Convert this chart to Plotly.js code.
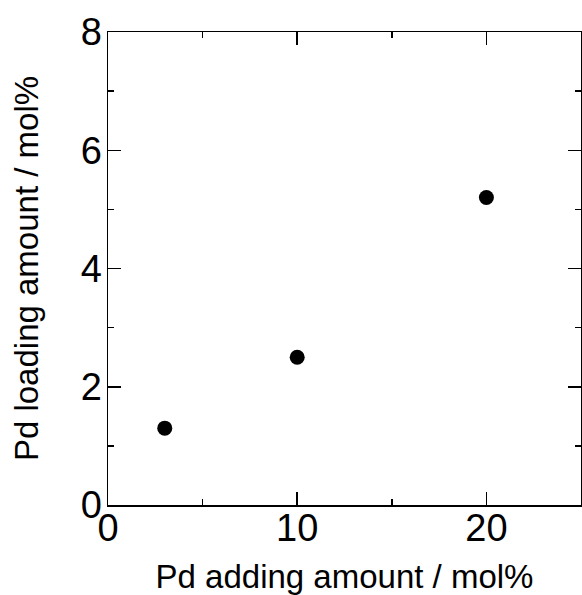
<!DOCTYPE html>
<html>
<head>
<meta charset="utf-8">
<script src="https://cdn.plot.ly/plotly-3.0.1.min.js"></script>
<style>html,body{margin:0;padding:0;background:#fff;}#chart{width:582px;height:595px;}</style>
</head>
<body>
<div id="chart"></div>
<script>
const pdAdding = [3, 10, 20];
const pdLoading = [1.3, 2.5, 5.2];
const xTitle = "Pd adding amount / mol%";
const yTitle = "Pd loading amount / mol%";

const font = "Liberation Sans, Arial, sans-serif";
const axisCommon = {
  showgrid: false,
  zeroline: false,
  showline: true,
  linecolor: "#000",
  linewidth: 1.5,
  mirror: "allticks",
  ticks: "inside",
  ticklen: 13,
  tickwidth: 1.5,
  tickcolor: "#000",
  tickfont: {family: font, size: 38, color: "#000"},
  minor: {ticks: "inside", ticklen: 6, tickwidth: 1.5, tickcolor: "#000", showgrid: false}
};

const data = [{
  x: pdAdding,
  y: pdLoading,
  type: "scatter",
  mode: "markers",
  marker: {size: 15, color: "#000"},
  showlegend: false
}];

const layout = {
  width: 582,
  height: 595,
  margin: {l: 108, r: 1, t: 32, b: 90},
  paper_bgcolor: "#fff",
  plot_bgcolor: "#fff",
  xaxis: Object.assign({}, axisCommon, {
    range: [0, 25],
    tickvals: [0, 10, 20],
    minor: Object.assign({}, axisCommon.minor, {tickvals: [5, 15]}),
    ticklabelstandoff: -11,
    title: {text: xTitle, font: {family: font, size: 33, color: "#000"}, standoff: 20}
  }),
  yaxis: Object.assign({}, axisCommon, {
    range: [0, 8],
    tickvals: [0, 2, 4, 6, 8],
    minor: Object.assign({}, axisCommon.minor, {tickvals: [1, 3, 5, 7]}),
    ticklabelstandoff: -3,
    title: {text: yTitle, font: {family: font, size: 33, color: "#000"}, standoff: 32}
  })
};

Plotly.newPlot("chart", data, layout, {displayModeBar: false, staticPlot: true});
</script>
</body>
</html>
